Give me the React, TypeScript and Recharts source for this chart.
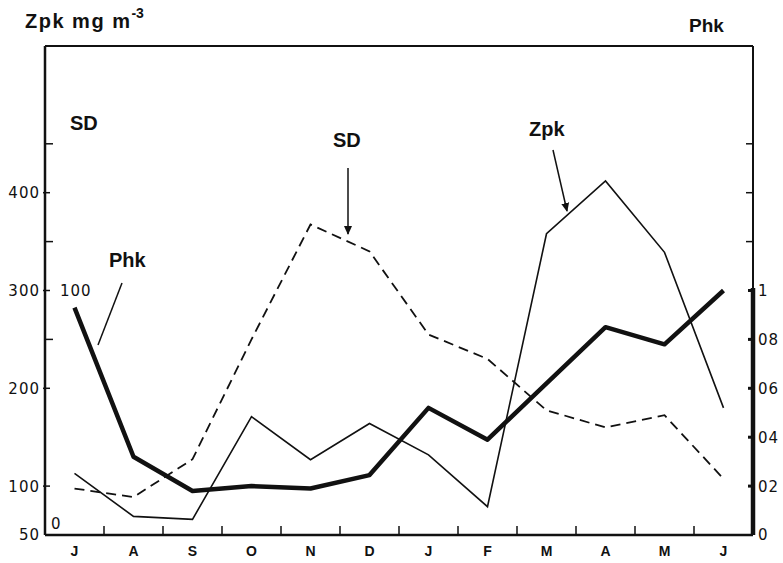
import React from 'react';
import { LineChart, Line, XAxis, YAxis, ReferenceLine } from 'recharts';

// monthly values, J (June) to J (June)
const months = ['J', 'A', 'S', 'O', 'N', 'D', 'J', 'F', 'M', 'A', 'M', 'J'];
const zpk = [113, 69, 66, 171, 127, 164, 132, 79, 358, 412, 339, 180];
const sd = [19, 15.5, 31, 80, 127, 116, 82, 72, 51, 44, 49, 23];
const phk = [0.93, 0.32, 0.18, 0.2, 0.19, 0.245, 0.52, 0.39, 0.62, 0.85, 0.78, 1.0];

const zpkTicks = [50, 100, 200, 250, 300, 350, 400, 450];
const zpkLabelled = [50, 100, 200, 300, 400];
const phkTicks = [0, 0.2, 0.4, 0.6, 0.8, 1, 1.2, 1.4, 1.6];
const phkLabels = ['0', '02', '04', '06', '08', '1'];
const monthTicks = months.flatMap((_, i) => (i < months.length - 1 ? [i, i + 0.5] : [i]));

const data = months.map((m, i) => ({ idx: i, month: m, zpk: zpk[i], sd: sd[i], phk: phk[i] }));

const INK = '#111';
const numFont = { fontFamily: '"DejaVu Sans", sans-serif', fontSize: 15, letterSpacing: 1, fill: INK };
const boldFont = { fontFamily: '"Liberation Sans", Arial, sans-serif', fontWeight: 700, fill: INK };

const LeftTick = (props: any) => {
    const { x, y, payload } = props;
    const v = payload.value;
    if (!zpkLabelled.includes(v)) {
        return <line x1={x} x2={x + 8} y1={y} y2={y} stroke={INK} strokeWidth={1.5} />;
    }
    return (
        <g>
            {v !== 50 && <line x1={x - 2} x2={x + 5} y1={y} y2={y} stroke={INK} strokeWidth={1.5} />}
            <text x={x - 5} y={y} dy="0.36em" textAnchor="end" {...numFont}>{v}</text>
        </g>
    );
};

const RightTick = (props: any) => {
    const { x, y, payload, index } = props;
    const label = phkLabels[index];
    if (label === undefined) {
        return <line x1={x - 7} x2={x} y1={y} y2={y} stroke={INK} strokeWidth={1.5} />;
    }
    return (
        <g>
            {payload.value > 0 && <line x1={x - 5} x2={x} y1={y} y2={y} stroke={INK} strokeWidth={3} />}
            <text x={x + 5} y={y} dy="0.36em" textAnchor="start" {...numFont}>{label}</text>
        </g>
    );
};

const BottomTick = (props: any) => {
    const { x, y, payload } = props;
    const v = payload.value;
    if (Number.isInteger(v)) {
        return <text x={x} y={y + 21} textAnchor="middle" fontSize={14} {...boldFont}>{months[v]}</text>;
    }
    return <line x1={x} x2={x} y1={y} y2={y - 9} stroke={INK} strokeWidth={1.5} />;
};

const App = () => {
    return (
        <div style={{ position: 'absolute', left: 0, top: 0, width: 783, height: 563, background: '#fff' }}>
            <LineChart width={783} height={563} data={data} margin={{ top: 44, right: 0, bottom: 0, left: 0 }}>
                <XAxis
                    dataKey="idx"
                    type="number"
                    domain={[-0.5, 11.5]}
                    ticks={monthTicks}
                    interval={0}
                    height={28}
                    tickSize={0}
                    tickMargin={0}
                    tickLine={false}
                    axisLine={{ stroke: INK, strokeWidth: 2.5 }}
                    tick={(p: any) => <BottomTick {...p} />}
                />
                <XAxis xAxisId="top" orientation="top" dataKey="idx" type="number" domain={[-0.5, 11.5]}
                    height={2} tick={false} tickLine={false} axisLine={{ stroke: INK, strokeWidth: 2 }} />
                <YAxis
                    yAxisId="zpk"
                    domain={[50, 550]}
                    ticks={zpkTicks}
                    interval={0}
                    width={45}
                    tickSize={0}
                    tickMargin={0}
                    tickLine={false}
                    axisLine={{ stroke: INK, strokeWidth: 2.5 }}
                    tick={(p: any) => <LeftTick {...p} />}
                />
                <YAxis
                    yAxisId="phk"
                    orientation="right"
                    domain={[0, 2]}
                    ticks={phkTicks}
                    interval={0}
                    width={30}
                    tickSize={0}
                    tickMargin={0}
                    tickLine={false}
                    axisLine={{ stroke: INK, strokeWidth: 2 }}
                    tick={(p: any) => <RightTick {...p} />}
                />
                <YAxis yAxisId="sd" orientation="right" domain={[0, 200]} width={0} hide />
                {/* thick lower part of the Phk axis, 0 to 1 */}
                <ReferenceLine yAxisId="phk" ifOverflow="visible" stroke={INK} strokeWidth={4.5}
                    segment={[{ x: 11.5, y: 0 }, { x: 11.5, y: 1.01 }]} />
                <ReferenceLine yAxisId="sd" y={100} stroke="none"
                    label={{ value: '100', position: 'insideLeft', offset: 15, ...numFont }} />
                <ReferenceLine yAxisId="sd" y={0} stroke="none"
                    label={{ value: '0', position: 'insideBottomLeft', offset: 6, ...numFont }} />
                <Line yAxisId="sd" type="linear" dataKey="sd" stroke={INK} strokeWidth={1.8}
                    strokeDasharray="10 6" dot={false} isAnimationActive={false} />
                <Line yAxisId="zpk" type="linear" dataKey="zpk" stroke={INK} strokeWidth={1.6}
                    dot={false} isAnimationActive={false} />
                <Line yAxisId="phk" type="linear" dataKey="phk" stroke={INK} strokeWidth={4.5}
                    strokeLinejoin="round" dot={false} isAnimationActive={false} />
            </LineChart>
            <svg width={783} height={563} style={{ position: 'absolute', left: 0, top: 0, pointerEvents: 'none' }}>
                <defs>
                    <marker id="head" markerWidth="10" markerHeight="10" refX="8" refY="5" orient="auto" markerUnits="userSpaceOnUse">
                        <path d="M0,1 L9,5 L0,9 Z" fill={INK} />
                    </marker>
                </defs>
                <text x={25} y={28} fontSize={20} letterSpacing={1.5} {...boldFont}>
                    Zpk mg m<tspan dy={-10} fontSize={14} letterSpacing={0}>-3</tspan>
                </text>
                <text x={689} y={32} fontSize={19} {...boldFont}>Phk</text>
                <text x={70} y={130} fontSize={20} {...boldFont}>SD</text>
                <text x={333} y={147} fontSize={20} {...boldFont}>SD</text>
                <text x={529} y={136} fontSize={20} {...boldFont}>Zpk</text>
                <text x={109} y={267} fontSize={20} {...boldFont}>Phk</text>
                <line x1={348} y1={168} x2={348} y2={234} stroke={INK} strokeWidth={1.5} markerEnd="url(#head)" />
                <line x1={553} y1={150} x2={567} y2={211} stroke={INK} strokeWidth={1.5} markerEnd="url(#head)" />
                <line x1={122} y1={283} x2={98} y2={345} stroke={INK} strokeWidth={1.5} />
            </svg>
        </div>
    );
};

export default App;
